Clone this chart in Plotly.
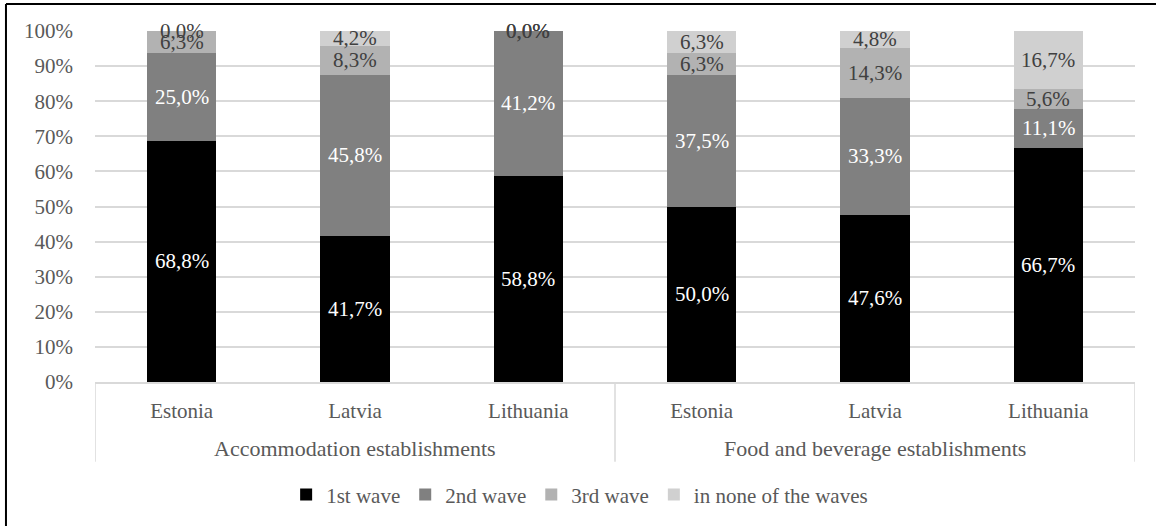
import plotly.graph_objects as go

# Establishment type groups and the countries within each
groups = ["Accommodation establishments", "Food and beverage establishments"]
countries = ["Estonia", "Latvia", "Lithuania"]

# Share of respondents (%) by wave, in order Acc-EE, Acc-LV, Acc-LT, Food-EE, Food-LV, Food-LT
wave1 = [68.8, 41.7, 58.8, 50.0, 47.6, 66.7]
wave2 = [25.0, 45.8, 41.2, 37.5, 33.3, 11.1]
wave3 = [6.3, 8.3, 0.0, 6.3, 14.3, 5.6]
none_ = [0.0, 4.2, 0.0, 6.3, 4.8, 16.7]

series_names = ["1st wave", "2nd wave", "3rd wave", "in none of the waves"]
series_values = [wave1, wave2, wave3, none_]
series_colors = ["#000000", "#808080", "#b2b2b2", "#d0d0d0"]
label_colors = ["#ffffff", "#ffffff", "#404040", "#404040"]

SERIF = "Liberation Serif"
GREY_TEXT = "#595959"
GRID = "#d9d9d9"

n_groups = len(groups)
n_cty = len(countries)
xpos = list(range(n_groups * n_cty))
xtext = countries * n_groups

fig = go.Figure()
for name, vals, col in zip(series_names, series_values, series_colors):
    fig.add_trace(go.Bar(
        x=xpos, y=vals, name=name, marker=dict(color=col, line=dict(width=0)),
        width=0.40, hoverinfo="skip",
    ))

# Data labels centred in each stacked segment (kept within the 0-100 axis)
annotations = []
for i in xpos:
    base = 0.0
    for vals, lc in zip(series_values, label_colors):
        v = vals[i]
        annotations.append(dict(
            x=i, y=min(base + v / 2, 100.0), xref="x", yref="y", showarrow=False,
            text=f"{v:.1f}".replace(".", ",") + "%",
            font=dict(family=SERIF, size=21, color=lc),
        ))
        base += v

# Group labels under the country labels
for g, gname in enumerate(groups):
    annotations.append(dict(
        x=g * n_cty + (n_cty - 1) / 2, y=-0.19, xref="x", yref="paper",
        text=gname, showarrow=False, yanchor="middle",
        font=dict(family=SERIF, size=22, color=GREY_TEXT),
    ))

# Vertical dividers bounding each group in the category area
shapes = []
for g in range(n_groups + 1):
    xd = g * n_cty - 0.5
    shapes.append(dict(type="line", xref="x", yref="paper", x0=xd, x1=xd,
                       y0=0, y1=-0.227, line=dict(color=GRID, width=1.5)))

# Outer frame: top and left edges
shapes.append(dict(type="line", xref="paper", yref="paper",
                   x0=-0.0856, x1=1.1, y0=1.077, y1=1.077,
                   line=dict(color="#000000", width=2)))
shapes.append(dict(type="line", xref="paper", yref="paper",
                   x0=-0.0856, x1=-0.0856, y0=-0.5, y1=1.077,
                   line=dict(color="#000000", width=2)))

fig.update_layout(
    width=1156, height=526,
    margin=dict(l=95, r=21, t=31, b=143),
    barmode="stack",
    plot_bgcolor="#ffffff", paper_bgcolor="#ffffff",
    font=dict(family=SERIF, color=GREY_TEXT),
    xaxis=dict(
        tickmode="array", tickvals=xpos, ticktext=xtext,
        range=[-0.5, len(xpos) - 0.5],
        tickfont=dict(family=SERIF, size=21, color=GREY_TEXT),
        showgrid=False, showline=True, linecolor=GRID, linewidth=1.5,
        ticks="", ticklabelstandoff=9,
    ),
    yaxis=dict(
        range=[0, 100], dtick=10, ticksuffix="%",
        tickfont=dict(family=SERIF, size=21, color=GREY_TEXT),
        showgrid=True, gridcolor=GRID, gridwidth=1.5,
        zeroline=False, showline=False, ticks="", ticklabelstandoff=21,
    ),
    legend=dict(
        orientation="h", x=0.466, xanchor="center", y=-0.318, yanchor="middle",
        font=dict(family=SERIF, size=21, color=GREY_TEXT),
        itemwidth=30, traceorder="normal",
    ),
    annotations=annotations,
    shapes=shapes,
    bargap=0.6,
)

fig.write_html("out.html")
